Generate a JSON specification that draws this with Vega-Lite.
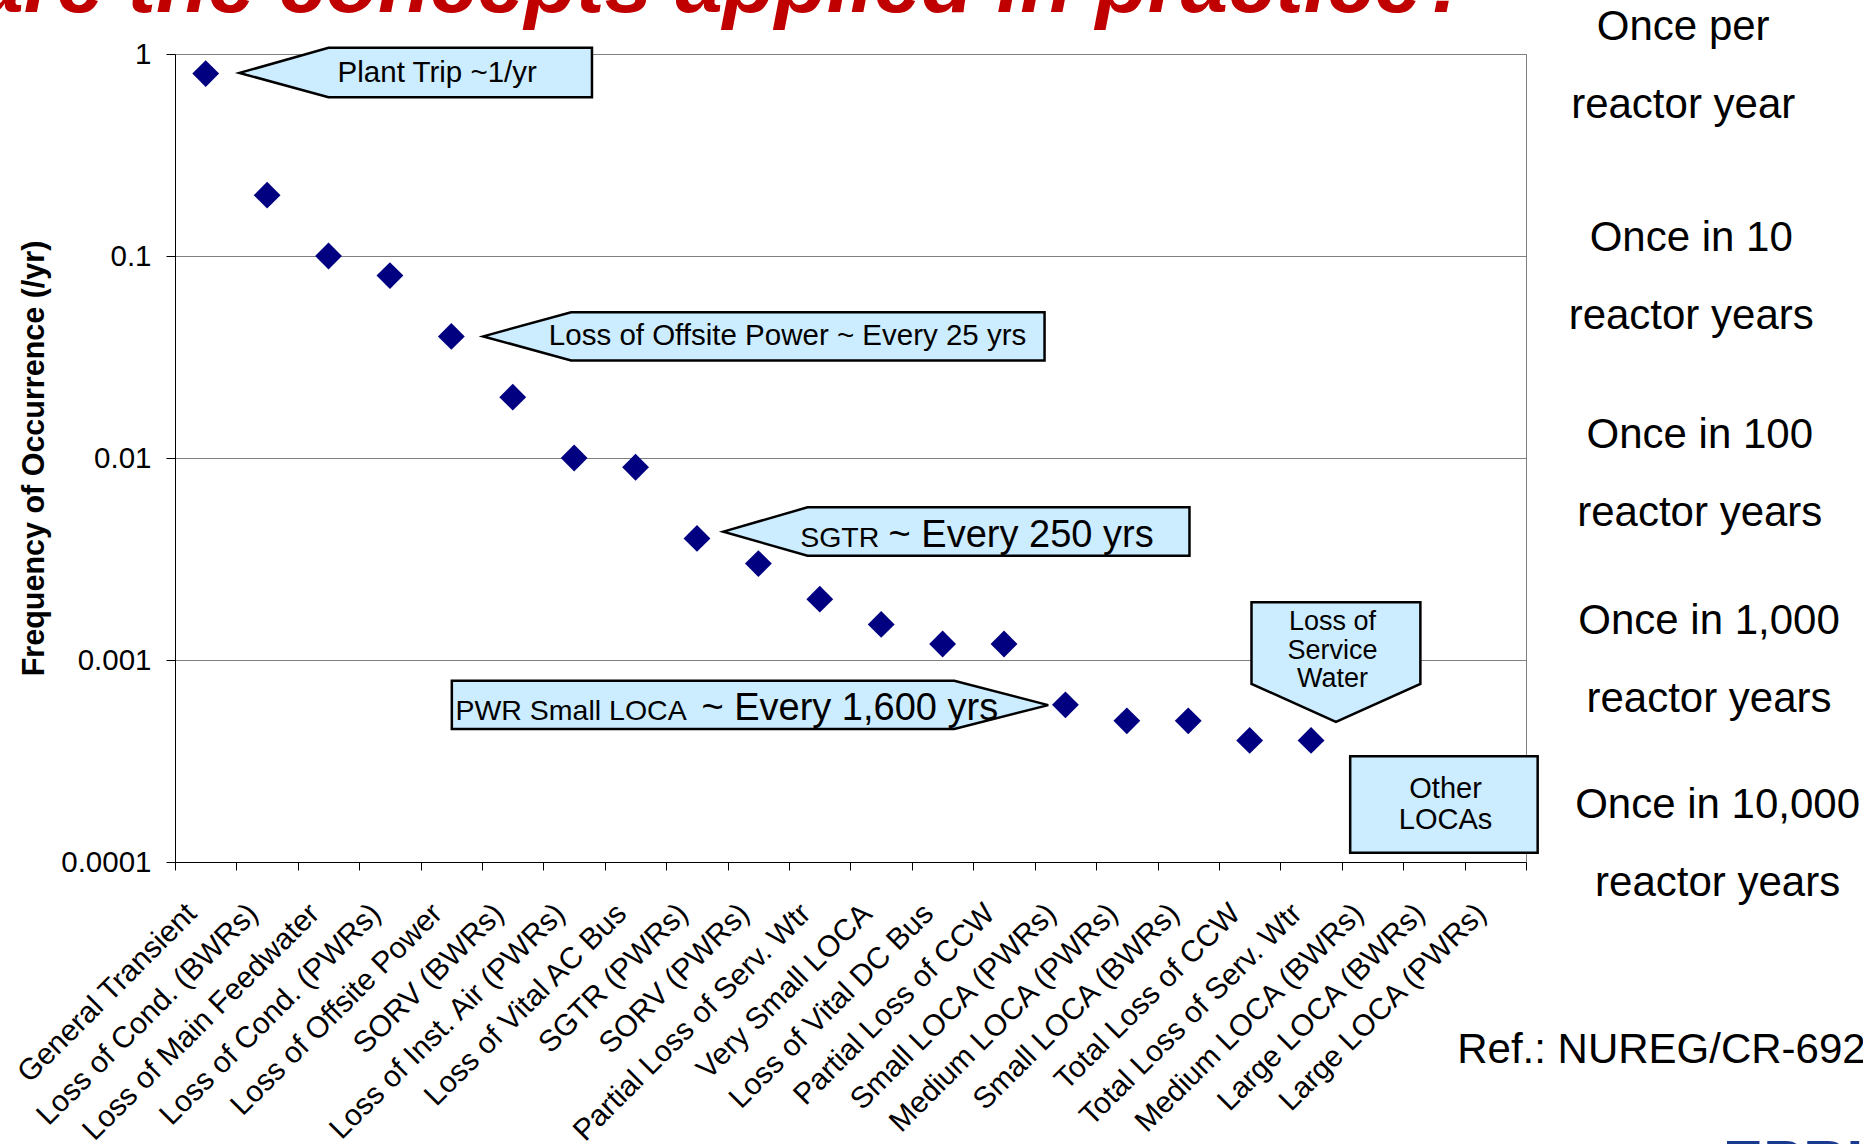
{
  "$schema": "https://vega.github.io/schema/vega-lite/v6.json",
  "width": 1351,
  "height": 808,
  "autosize": {"type": "none"},
  "padding": {"left": 175, "top": 54, "right": 337, "bottom": 282},
  "background": "white",
  "config": {"font": "Liberation Sans", "view": {"stroke": "#808080", "strokeWidth": 1}},
  "datasets": {
    "events": [
      {"event": "General Transient", "freq": 0.8},
      {"event": "Loss of Cond. (BWRs)", "freq": 0.2},
      {"event": "Loss of Main Feedwater", "freq": 0.1},
      {"event": "Loss of Cond. (PWRs)", "freq": 0.08},
      {"event": "Loss of Offsite Power", "freq": 0.04},
      {"event": "SORV (BWRs)", "freq": 0.02},
      {"event": "Loss of Inst. Air (PWRs)", "freq": 0.01},
      {"event": "Loss of Vital AC Bus", "freq": 0.009},
      {"event": "SGTR (PWRs)", "freq": 0.004},
      {"event": "SORV (PWRs)", "freq": 0.003},
      {"event": "Partial Loss of Serv. Wtr", "freq": 0.002},
      {"event": "Very Small LOCA", "freq": 0.0015},
      {"event": "Loss of Vital DC Bus", "freq": 0.0012},
      {"event": "Partial Loss of CCW", "freq": 0.0012},
      {"event": "Small LOCA (PWRs)", "freq": 0.0006},
      {"event": "Medium LOCA (PWRs)", "freq": 0.0005},
      {"event": "Small LOCA (BWRs)", "freq": 0.0005},
      {"event": "Total Loss of CCW", "freq": 0.0004},
      {"event": "Total Loss of Serv. Wtr", "freq": 0.0004}
    ],
    "callouts": [
      {"id": "plant", "xq": 1.05, "top": 0.806, "bottom": 0.806},
      {"id": "plant", "xq": 2.5, "top": 1.073, "bottom": 0.611},
      {"id": "plant", "xq": 6.79, "top": 1.073, "bottom": 0.611},
      {"id": "loop", "xq": 5.02, "top": 0.04, "bottom": 0.04},
      {"id": "loop", "xq": 6.45, "top": 0.0527, "bottom": 0.0304},
      {"id": "loop", "xq": 14.16, "top": 0.0527, "bottom": 0.0304},
      {"id": "sgtr", "xq": 8.93, "top": 0.00432, "bottom": 0.00432},
      {"id": "sgtr", "xq": 10.3, "top": 0.0057, "bottom": 0.00328},
      {"id": "sgtr", "xq": 16.52, "top": 0.0057, "bottom": 0.00328},
      {"id": "pwr", "xq": 4.508, "top": 0.00079, "bottom": 0.000456},
      {"id": "pwr", "xq": 12.69, "top": 0.00079, "bottom": 0.000456},
      {"id": "pwr", "xq": 14.22, "top": 0.000598, "bottom": 0.000598},
      {"id": "sw", "xq": 17.53, "top": 0.00193, "bottom": 0.000762},
      {"id": "sw", "xq": 18.905, "top": 0.00193, "bottom": 0.000494},
      {"id": "sw", "xq": 20.28, "top": 0.00193, "bottom": 0.000762}
    ],
    "boxes": [
      {"xl": 19.137, "xr": 22.19, "top": 0.000334, "bottom": 0.000111}
    ],
    "calloutText": [
      {"label": "Plant Trip ~1/yr", "xq": 4.27, "yq": 0.806},
      {"label": "Loss of Offsite Power ~ Every 25 yrs", "xq": 9.975, "yq": 0.04}
    ],
    "smallLead": [
      {"label": "SGTR", "xq": 10.18, "yq": 0.00364},
      {"label": "PWR Small LOCA", "xq": 4.567, "yq": 0.000505}
    ],
    "bigTail": [
      {"label": "~ Every 250 yrs", "xq": 11.62, "yq": 0.00364},
      {"label": "~ Every 1,600 yrs", "xq": 8.572, "yq": 0.000505}
    ],
    "boxText": [
      {"label": "Loss of\nService\nWater", "xq": 18.85, "yq": 0.0014}
    ],
    "otherText": [
      {"label": "Other\nLOCAs", "xq": 20.69, "yq": 0.000208}
    ],
    "scaleNotes": [
      {"label": "Once per\nreactor year", "xq": 24.56, "yq": 1.366},
      {"label": "Once in 10\nreactor years", "xq": 24.69, "yq": 0.1225},
      {"label": "Once in 100\nreactor years", "xq": 24.83, "yq": 0.01294},
      {"label": "Once in 1,000\nreactor years", "xq": 24.98, "yq": 0.001564},
      {"label": "Once in 10,000\nreactor years", "xq": 25.12, "yq": 0.0001915}
    ],
    "refNote": [
      {"label": "Ref.: NUREG/CR-6928", "xq": 20.88, "yq": 0.00001177}
    ],
    "slideTitle": [
      {"label": "How are the concepts applied in practice?", "xq": 21.15, "yq": 1.606}
    ],
    "logo": [
      {"label": "EPRI", "xq": 25.21, "yq": 0.00000443}
    ]
  },
  "layer": [
    {
      "data": {"name": "events"},
      "mark": {"type": "point", "shape": "diamond", "filled": true, "size": 720, "color": "#000080", "opacity": 1},
      "encoding": {
        "x": {
          "field": "event", "type": "nominal", "sort": null,
          "scale": {"type": "band", "paddingInner": 0, "paddingOuter": 0,
            "domain": ["General Transient", "Loss of Cond. (BWRs)", "Loss of Main Feedwater", "Loss of Cond. (PWRs)", "Loss of Offsite Power", "SORV (BWRs)", "Loss of Inst. Air (PWRs)", "Loss of Vital AC Bus", "SGTR (PWRs)", "SORV (PWRs)", "Partial Loss of Serv. Wtr", "Very Small LOCA", "Loss of Vital DC Bus", "Partial Loss of CCW", "Small LOCA (PWRs)", "Medium LOCA (PWRs)", "Small LOCA (BWRs)", "Total Loss of CCW", "Total Loss of Serv. Wtr", "Medium LOCA (BWRs)", "Large LOCA (BWRs)", "Large LOCA (PWRs)"]},
          "axis": {"title": null, "tickBand": "extent", "labelAngle": -45, "labelFontSize": 30, "labelColor": "#000", "tickColor": "#000", "tickSize": 8, "domainColor": "#000", "grid": false, "labelOverlap": false, "labelLimit": 1000, "labelBound": false, "labelPadding": 28, "labelOffset": -25}
        },
        "y": {
          "field": "freq", "type": "quantitative",
          "scale": {"type": "log", "domain": [0.0001, 1]},
          "axis": {"values": [0.0001, 0.001, 0.01, 0.1, 1], "format": "~g", "grid": true, "gridColor": "#808080", "gridWidth": 1, "domainColor": "#000", "tickColor": "#000", "tickSize": 9, "labelFontSize": 29.5, "labelColor": "#000", "labelPadding": 15, "title": "Frequency of Occurrence (/yr)", "titleFontSize": 30.5, "titleFontWeight": "bold", "titleColor": "#000", "titlePadding": 11}
        }
      }
    },
    {
      "mark": {"type": "rule", "color": "#000", "strokeWidth": 1.5},
      "encoding": {
        "x": {"datum": 0, "type": "quantitative", "scale": {"domain": [0, 22], "nice": false, "zero": false}, "axis": null},
        "x2": {"datum": 22},
        "y": {"datum": 1, "type": "quantitative"}
      }
    },
    {
      "data": {"name": "callouts"},
      "mark": {"type": "area", "fill": "#CCECFF", "stroke": "#000", "strokeWidth": 2.5, "opacity": 1, "fillOpacity": 1},
      "encoding": {
        "x": {"field": "xq", "type": "quantitative", "scale": {"domain": [0, 22], "nice": false, "zero": false}, "axis": null},
        "y": {"field": "top", "type": "quantitative"},
        "y2": {"field": "bottom"},
        "detail": {"field": "id"}
      }
    },
    {
      "data": {"name": "boxes"},
      "mark": {"type": "rect", "fill": "#CCECFF", "stroke": "#000", "strokeWidth": 2.5},
      "encoding": {
        "x": {"field": "xl", "type": "quantitative", "scale": {"domain": [0, 22], "nice": false, "zero": false}, "axis": null},
        "x2": {"field": "xr"},
        "y": {"field": "top", "type": "quantitative"},
        "y2": {"field": "bottom"}
      }
    },
    {
      "data": {"name": "calloutText"},
      "mark": {"type": "text", "fontSize": 29.5, "align": "center", "baseline": "middle", "color": "#000"},
      "encoding": {
        "x": {"field": "xq", "type": "quantitative", "scale": {"domain": [0, 22], "nice": false, "zero": false}, "axis": null},
        "y": {"field": "yq", "type": "quantitative"},
        "text": {"field": "label"}
      }
    },
    {
      "data": {"name": "smallLead"},
      "mark": {"type": "text", "fontSize": 28.5, "align": "left", "baseline": "alphabetic", "color": "#000"},
      "encoding": {
        "x": {"field": "xq", "type": "quantitative", "scale": {"domain": [0, 22], "nice": false, "zero": false}, "axis": null},
        "y": {"field": "yq", "type": "quantitative"},
        "text": {"field": "label"}
      }
    },
    {
      "data": {"name": "bigTail"},
      "mark": {"type": "text", "fontSize": 38, "align": "left", "baseline": "alphabetic", "color": "#000"},
      "encoding": {
        "x": {"field": "xq", "type": "quantitative", "scale": {"domain": [0, 22], "nice": false, "zero": false}, "axis": null},
        "y": {"field": "yq", "type": "quantitative"},
        "text": {"field": "label"}
      }
    },
    {
      "data": {"name": "boxText"},
      "mark": {"type": "text", "fontSize": 27, "lineHeight": 28.5, "align": "center", "baseline": "alphabetic", "color": "#000", "lineBreak": "\n"},
      "encoding": {
        "x": {"field": "xq", "type": "quantitative", "scale": {"domain": [0, 22], "nice": false, "zero": false}, "axis": null},
        "y": {"field": "yq", "type": "quantitative"},
        "text": {"field": "label"}
      }
    },
    {
      "data": {"name": "otherText"},
      "mark": {"type": "text", "fontSize": 29, "lineHeight": 31, "align": "center", "baseline": "alphabetic", "color": "#000", "lineBreak": "\n"},
      "encoding": {
        "x": {"field": "xq", "type": "quantitative", "scale": {"domain": [0, 22], "nice": false, "zero": false}, "axis": null},
        "y": {"field": "yq", "type": "quantitative"},
        "text": {"field": "label"}
      }
    },
    {
      "data": {"name": "scaleNotes"},
      "mark": {"type": "text", "fontSize": 42, "lineHeight": 78, "align": "center", "baseline": "middle", "color": "#000", "lineBreak": "\n"},
      "encoding": {
        "x": {"field": "xq", "type": "quantitative", "scale": {"domain": [0, 22], "nice": false, "zero": false}, "axis": null},
        "y": {"field": "yq", "type": "quantitative"},
        "text": {"field": "label"}
      }
    },
    {
      "data": {"name": "refNote"},
      "mark": {"type": "text", "fontSize": 42, "align": "left", "baseline": "middle", "color": "#000"},
      "encoding": {
        "x": {"field": "xq", "type": "quantitative", "scale": {"domain": [0, 22], "nice": false, "zero": false}, "axis": null},
        "y": {"field": "yq", "type": "quantitative"},
        "text": {"field": "label"}
      }
    },
    {
      "data": {"name": "slideTitle"},
      "mark": {"type": "text", "fontSize": 85, "fontWeight": "bold", "fontStyle": "italic", "align": "right", "baseline": "alphabetic", "color": "#C00000"},
      "encoding": {
        "x": {"field": "xq", "type": "quantitative", "scale": {"domain": [0, 22], "nice": false, "zero": false}, "axis": null},
        "y": {"field": "yq", "type": "quantitative"},
        "text": {"field": "label"}
      }
    },
    {
      "data": {"name": "logo"},
      "mark": {"type": "text", "fontSize": 60, "fontWeight": "bold", "align": "left", "baseline": "top", "color": "#1A3A8F"},
      "encoding": {
        "x": {"field": "xq", "type": "quantitative", "scale": {"domain": [0, 22], "nice": false, "zero": false}, "axis": null},
        "y": {"field": "yq", "type": "quantitative"},
        "text": {"field": "label"}
      }
    },
    {
      "mark": {"type": "rule", "color": "#D0D0D0", "strokeWidth": 2},
      "encoding": {
        "x": {"datum": -3.5, "type": "quantitative", "scale": {"domain": [0, 22], "nice": false, "zero": false}, "axis": null},
        "x2": {"datum": 28},
        "y": {"datum": 0.00000582, "type": "quantitative"}
      }
    }
  ],
  "resolve": {"scale": {"x": "independent"}}
}
